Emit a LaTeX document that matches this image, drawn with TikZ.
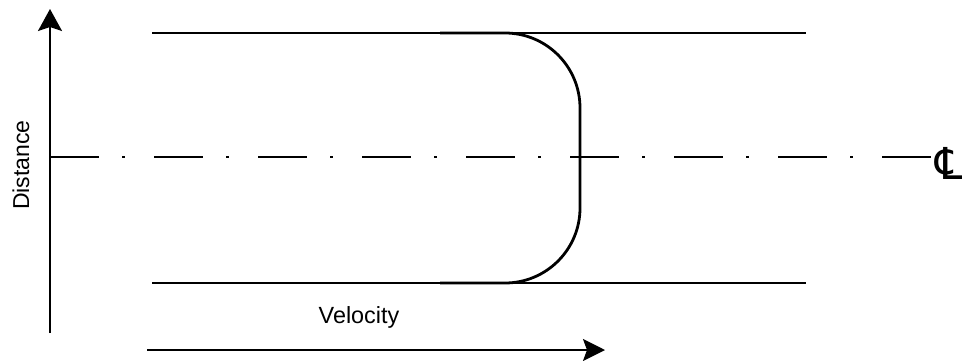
\documentclass[tikz,border=0pt]{standalone}
\usepackage{fontspec}
\setmainfont{Liberation Sans}
\newfontfamily\symfont{DejaVu Sans}
\usetikzlibrary{arrows.meta}

\begin{document}
\begin{tikzpicture}[x=0.5pt,y=-0.5pt,>={Stealth[inset=2pt]}]
\useasboundingbox (0,0) rectangle (962,360);
\coordinate (axisbot) at (50,333);
\coordinate (axistop) at (50,9);
\coordinate (velstart) at (147,350);
\coordinate (velend) at (605,350);
\coordinate (walltopl) at (152,33);
\coordinate (walltopr) at (806,33);
\coordinate (wallbotl) at (152,283);
\coordinate (wallbotr) at (806,283);
\coordinate (clstart) at (50,157);
\coordinate (clend) at (931,157);

\node[rotate=90,font=\fontsize{11.5}{14}\selectfont] (distance) at (21,165) {Distance};
\node[font=\fontsize{11.7}{14}\selectfont] (velocity) at (359,317) {Velocity};
\node[font=\fontsize{22}{26}\symfont,inner sep=0pt] (clsym) at (950,163) {℄};

% axes
\draw[line width=1pt,->,>={Stealth[length=11pt,width=12pt,inset=2pt]}] (axisbot) -- (axistop);
\draw[line width=1pt,->,>={Stealth[length=11pt,width=11pt,inset=2pt]}] (velstart) -- (velend);

% pipe walls
\draw[line width=1pt] (walltopl) -- (walltopr);
\draw[line width=1pt] (wallbotl) -- (wallbotr);

% centre line
\draw[line width=1pt,dash pattern=on 24.5pt off 11.5pt on 1.5pt off 14.5pt] (clstart) -- (clend);

% velocity profile
\draw[line width=1.4pt,rounded corners=37.5pt] (440,33) -- (580,33) -- (580,283) -- (440,283);
\end{tikzpicture}
\end{document}
